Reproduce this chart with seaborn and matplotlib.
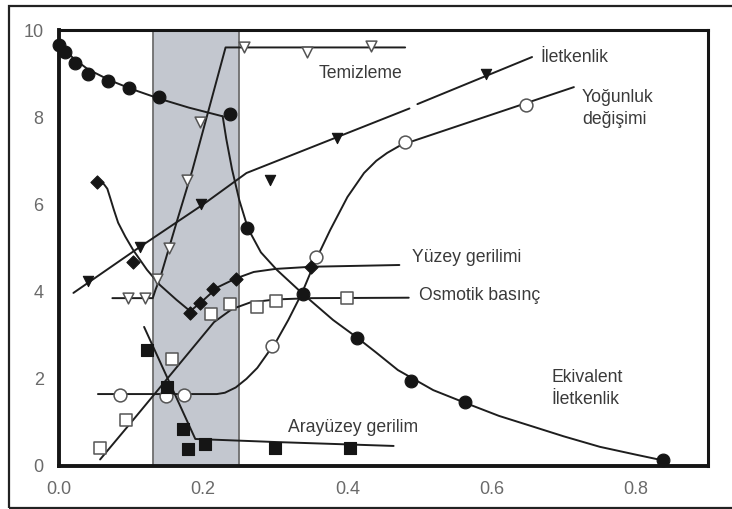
import matplotlib
matplotlib.use("Agg")
import matplotlib.pyplot as plt
import seaborn as sns
from matplotlib.patches import Rectangle

# ---------------- data ----------------
# Ekivalent İletkenlik (filled circles)
ek_x = [0.0, 0.008, 0.022, 0.04, 0.068, 0.097, 0.138, 0.237, 0.261, 0.338, 0.413, 0.488, 0.563, 0.837]
ek_y = [9.66, 9.5, 9.25, 9.0, 8.83, 8.67, 8.47, 8.07, 5.45, 3.95, 2.93, 1.95, 1.47, 0.14]
ek_c1x = [0.0, 0.02, 0.04, 0.07, 0.10, 0.14, 0.18, 0.227]
ek_c1y = [9.68, 9.35, 9.1, 8.85, 8.65, 8.42, 8.22, 8.02]
ek_c2x = [0.227, 0.232, 0.24, 0.25, 0.262, 0.28, 0.302, 0.338, 0.38, 0.413, 0.44, 0.47, 0.519, 0.563, 0.61, 0.658, 0.70, 0.75, 0.80, 0.84]
ek_c2y = [8.02, 7.5, 6.8, 6.1, 5.45, 4.9, 4.5, 3.95, 3.35, 2.95, 2.6, 2.2, 1.74, 1.45, 1.15, 0.9, 0.68, 0.44, 0.26, 0.12]

# Temizleme (open down triangles)
tm_x = [0.096, 0.119, 0.136, 0.152, 0.178, 0.196, 0.256, 0.344, 0.432]
tm_y = [3.85, 3.85, 4.3, 5.0, 6.56, 7.89, 9.6, 9.5, 9.63]
tm_lx = [0.074, 0.13, 0.134, 0.14, 0.164, 0.185, 0.231, 0.48]
tm_ly = [3.85, 3.85, 4.05, 4.3, 5.64, 6.79, 9.6, 9.6]

# İletkenlik (filled down triangles)
il_x = [0.04, 0.112, 0.197, 0.293, 0.386, 0.592]
il_y = [4.24, 5.02, 6.0, 6.56, 7.52, 9.0]
il_l1x = [0.02, 0.11, 0.20, 0.26, 0.486]
il_l1y = [3.97, 5.0, 6.0, 6.72, 8.2]
il_l2x = [0.497, 0.656]
il_l2y = [8.3, 9.38]

# Yoğunluk değişimi (open circles)
yg_x = [0.084, 0.148, 0.174, 0.296, 0.356, 0.48, 0.647]
yg_y = [1.62, 1.6, 1.63, 2.75, 4.79, 7.42, 8.28]
yg_lx = [0.054, 0.219, 0.23, 0.245, 0.26, 0.275, 0.29, 0.30, 0.318, 0.337, 0.356, 0.376, 0.40, 0.423, 0.44, 0.455, 0.474, 0.714]
yg_ly = [1.65, 1.65, 1.68, 1.8, 2.0, 2.25, 2.6, 2.82, 3.35, 3.97, 4.72, 5.41, 6.17, 6.72, 7.0, 7.18, 7.36, 8.69]

# Yüzey gerilimi (filled diamonds)
yz_x = [0.053, 0.103, 0.182, 0.196, 0.214, 0.246, 0.349]
yz_y = [6.51, 4.68, 3.51, 3.73, 4.06, 4.3, 4.57]
yz_lx = [0.055, 0.062, 0.067, 0.071, 0.076, 0.082, 0.092, 0.103, 0.122, 0.14, 0.163, 0.182, 0.20, 0.22, 0.245, 0.27, 0.30, 0.35, 0.472]
yz_ly = [6.5, 6.47, 6.36, 6.15, 5.88, 5.58, 5.26, 4.95, 4.5, 4.15, 3.81, 3.55, 3.8, 4.1, 4.3, 4.45, 4.52, 4.57, 4.61]

# Osmotik basınç (open squares)
os_x = [0.057, 0.093, 0.157, 0.211, 0.237, 0.275, 0.301, 0.40]
os_y = [0.41, 1.05, 2.45, 3.48, 3.71, 3.64, 3.78, 3.86]
os_lx = [0.057, 0.10, 0.13, 0.16, 0.19, 0.215, 0.24, 0.265, 0.30, 0.35, 0.485]
os_ly = [0.15, 1.0, 1.6, 2.2, 2.8, 3.3, 3.6, 3.75, 3.82, 3.85, 3.86]

# Arayüzey gerilim (filled squares)
ar_x = [0.122, 0.15, 0.172, 0.179, 0.203, 0.30, 0.404]
ar_y = [2.66, 1.82, 0.85, 0.39, 0.5, 0.41, 0.41]
ar_lx = [0.118, 0.189, 0.30, 0.464]
ar_ly = [3.19, 0.62, 0.55, 0.46]

x_ticks = [0.0, 0.2, 0.4, 0.6, 0.8]
x_ticklabels = ["0.0", "0.2", "0.4", "0.6", "0.8"]
y_ticks = [0, 2, 4, 6, 8, 10]
y_ticklabels = ["0", "2", "4", "6", "8", "10"]

labels = {
    "Temizleme": (0.36, 9.01),
    "İletkenlik": (0.668, 9.38),
    "Yoğunluk\ndeğişimi": (0.725, 8.2),
    "Yüzey gerilimi": (0.489, 4.79),
    "Osmotik basınç": (0.499, 3.92),
    "Arayüzey gerilim": (0.317, 0.89),
    "Ekivalent\nİletkenlik": (0.683, 1.78),
}

# ---------------- figure ----------------
sns.set_theme(style="white")
plt.rcParams["font.family"] = ["Liberation Sans", "DejaVu Sans"]

fig = plt.figure(figsize=(7.32, 5.09), dpi=100)
ax = fig.add_axes([59 / 732, 1 - 466 / 509, (708 - 59) / 732, (466 - 30) / 509])

ax.axvspan(0.13, 0.25, facecolor="#c3c7cf", edgecolor="#6e6e6e", lw=1.3, zorder=0)

LC = "#1e1e1e"
LW = 1.4

def line(xs, ys):
    sns.lineplot(x=xs, y=ys, sort=False, estimator=None, color=LC, lw=LW, ax=ax, zorder=2)

def pts(xs, ys, marker, filled, s):
    if filled:
        sns.scatterplot(x=xs, y=ys, marker=marker, s=s, color="#151515", edgecolor="#151515",
                        linewidth=0.8, ax=ax, zorder=3, clip_on=False)
    else:
        sns.scatterplot(x=xs, y=ys, marker=marker, s=s, color="white", edgecolor="#555555",
                        linewidth=1.1, ax=ax, zorder=3, clip_on=False)

line(ek_c1x, ek_c1y)
line(ek_c2x, ek_c2y)
pts(ek_x, ek_y, "o", True, 85)

line(tm_lx, tm_ly)
pts(tm_x, tm_y, "v", False, 60)

line(il_l1x, il_l1y)
line(il_l2x, il_l2y)
pts(il_x, il_y, "v", True, 55)

line(yg_lx, yg_ly)
pts(yg_x, yg_y, "o", False, 85)

line(yz_lx, yz_ly)
pts(yz_x, yz_y, "D", True, 45)

line(os_lx, os_ly)
pts(os_x, os_y, "s", False, 65)

line(ar_lx, ar_ly)
pts(ar_x, ar_y, "s", True, 65)

for txt, (tx, ty) in labels.items():
    ax.text(tx, ty, txt, ha="left", va="center", fontsize=12.7, color="#3a3a3a",
            linespacing=1.35, zorder=4)

ax.set_xlim(0, 0.9)
ax.set_ylim(0, 10)
ax.set_xticks(x_ticks)
ax.set_xticklabels(x_ticklabels)
ax.set_yticks(y_ticks)
ax.set_yticklabels(y_ticklabels)
ax.tick_params(axis="both", direction="out", length=5, width=1.2, colors="#777777",
               labelsize=13, pad=6)
ax.tick_params(axis="both", labelcolor="#6a6a6a")
for sp in ax.spines.values():
    sp.set_color("#151515")
    sp.set_linewidth(2.2)
    sp.set_visible(True)
ax.spines["left"].set_linewidth(2.8)
ax.spines["bottom"].set_linewidth(2.8)
ax.set_xlabel("")
ax.set_ylabel("")
ax.grid(False)

# outer frame of the picture
fig.patches.append(Rectangle((9 / 732, 1.5 / 509), 1.2, 1 - 7.5 / 509, transform=fig.transFigure,
                             fill=False, edgecolor="#222222", lw=1.6, zorder=10))

fig.savefig("out.png", dpi=100)
